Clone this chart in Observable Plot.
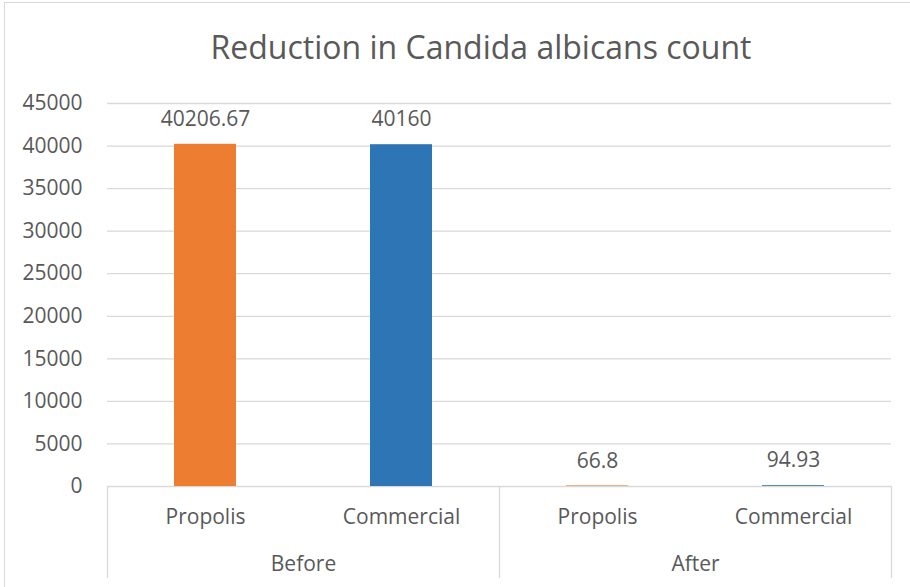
<!DOCTYPE html>
<html>
<head>
<meta charset="utf-8">
<script src="https://cdn.jsdelivr.net/npm/d3@7"></script>
<script src="https://cdn.jsdelivr.net/npm/@observablehq/plot@0.6"></script>
<style>
  html, body { margin: 0; padding: 0; background: #fff; }
  #wrap { position: relative; width: 910px; height: 587px; overflow: hidden; font-family: "Open Sans", sans-serif; }
  #border { position: absolute; left: 4px; top: 2px; width: 920px; height: 600px; border-left: 1.5px solid #d9d9d9; border-top: 1.5px solid #d9d9d9; box-sizing: border-box; }
  #title { position: absolute; left: 481px; top: 25px; transform: translateX(-50%); white-space: nowrap; font-size: 32px; color: #595959; line-height: normal; }
  #chart { position: absolute; left: 0; top: 0; }
</style>
</head>
<body>
<div id="wrap">
  <div id="border"></div>
  <div id="chart"></div>
  <div id="title">Reduction in Candida albicans count</div>
</div>
<script>
// Data
const groups = ["Before", "Before", "After", "After"];
const products = ["Propolis", "Commercial", "Propolis", "Commercial"];
const values = [40206.67, 40160, 66.8, 94.93];
const valueLabels = ["40206.67", "40160", "66.8", "94.93"];
const yTicks = [0, 5000, 10000, 15000, 20000, 25000, 30000, 35000, 40000, 45000];
const seriesNames = ["Propolis", "Commercial"];
const seriesColors = ["#ED7D31", "#2E75B6"];

const keys = groups.map((g, i) => g + "|" + products[i]);
const rows = keys.map((k, i) => ({key: k, group: groups[i], product: products[i], value: values[i], label: valueLabels[i]}));

const W = 910, H = 587;
const mL = 107, mR = 19, mT = 103, mB = 101;
const step = (W - mL - mR) / keys.length;
const frameH = H - mT - mB;
const textColor = "#595959";
const fs = 21;

const plot = Plot.plot({
  width: W,
  height: H,
  marginLeft: mL,
  marginRight: mR,
  marginTop: mT,
  marginBottom: mB,
  style: {fontFamily: "'Open Sans', sans-serif", color: textColor, background: "transparent", overflow: "visible"},
  x: {domain: keys, paddingInner: 0.685, paddingOuter: 0.3425, axis: null},
  y: {domain: [0, 45000], label: null},
  color: {domain: seriesNames, range: seriesColors},
  marks: [
    Plot.gridY(yTicks, {stroke: "#d9d9d9", strokeOpacity: 1, strokeWidth: 1.3}),
    Plot.axisY({ticks: yTicks, tickSize: 0, tickPadding: 25, fontSize: fs, tickFormat: d => String(d), label: null}),
    Plot.barY(rows, {x: "key", y: "value", fill: "product"}),
    Plot.text(rows, {x: "key", y: "value", text: "label", dy: -25, fontSize: fs, fill: textColor, lineAnchor: "middle"}),
    // category separators
    Plot.ruleX([keys[0]], {dx: -step / 2, insetTop: frameH, insetBottom: -92, stroke: "#d9d9d9", strokeWidth: 1.3}),
    Plot.ruleX([keys[1], keys[3]], {dx: step / 2, insetTop: frameH, insetBottom: -92, stroke: "#d9d9d9", strokeWidth: 1.3}),
    // product labels
    Plot.text(rows, {x: "key", text: "product", frameAnchor: "bottom", dy: 31, fontSize: fs, fill: textColor, lineAnchor: "middle"}),
    // group labels
    Plot.text(rows.filter((d, i) => i === 0 || groups[i] !== groups[i - 1]), {x: "key", text: "group", frameAnchor: "bottom", dx: step / 2, dy: 78, fontSize: fs, fill: textColor, lineAnchor: "middle"})
  ]
});
document.getElementById("chart").appendChild(plot);
</script>
</body>
</html>
